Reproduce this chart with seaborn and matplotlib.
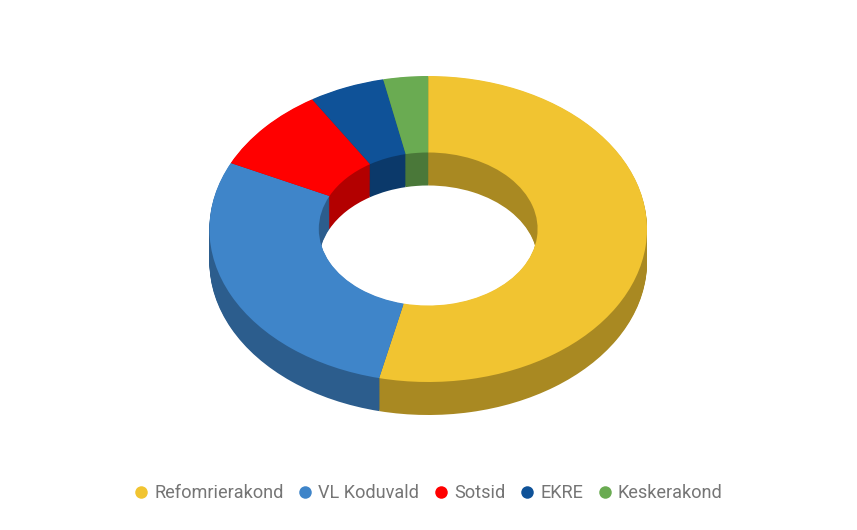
import matplotlib
matplotlib.use("Agg")
import matplotlib.pyplot as plt
from matplotlib.lines import Line2D
import numpy as np
import seaborn as sns

parties = ["Refomrierakond", "VL Koduvald", "Sotsid", "EKRE", "Keskerakond"]
shares = [53.6, 28.5, 9.0, 5.6, 3.3]
top_colors = ["#F1C431", "#3F85C9", "#FF0000", "#0F5298", "#6AAB52"]

sns.set_theme(style="white")
plt.rcParams["font.family"] = ["Roboto", "DejaVu Sans"]

W, H = 857, 530
cx, cy, rx, ry = 428.2, 229.0, 218.8, 153.0
depth = 33.0 / ry
hole = 0.5

palette = sns.color_palette(top_colors)
dark = [tuple(c * 0.7 for c in col) for col in palette]

fig = plt.figure(figsize=(W / 100, H / 100), dpi=100, facecolor="white")
ax = fig.add_axes([0, 0, 1, 1])

for off in np.linspace(depth, 0.004, 34):
    ax.pie(shares, colors=dark, startangle=90, counterclock=False, radius=1,
           center=(0, -off), wedgeprops=dict(width=1 - hole, linewidth=0))
ax.pie(shares, colors=palette, startangle=90, counterclock=False, radius=1,
       center=(0, 0), wedgeprops=dict(width=1 - hole, linewidth=0))

ax.set_aspect("auto")
ax.set_xlim(-cx / rx, (W - cx) / rx)
ax.set_ylim(-(H - cy) / ry, cy / ry)
ax.axis("off")

handles = [Line2D([], [], linestyle="none", marker="o", markersize=9,
                  markerfacecolor=c, markeredgecolor="none", label=p)
           for c, p in zip(palette, parties)]
fig.legend(handles=handles, ncol=5, loc="center", bbox_to_anchor=(0.4966, 1 - 493.5 / H),
           frameon=False, fontsize=13.1, labelcolor="#757575", handletextpad=0.055,
           columnspacing=0.51, handlelength=1.35, borderpad=0)
fig.savefig("out.png", dpi=100, facecolor="white")
